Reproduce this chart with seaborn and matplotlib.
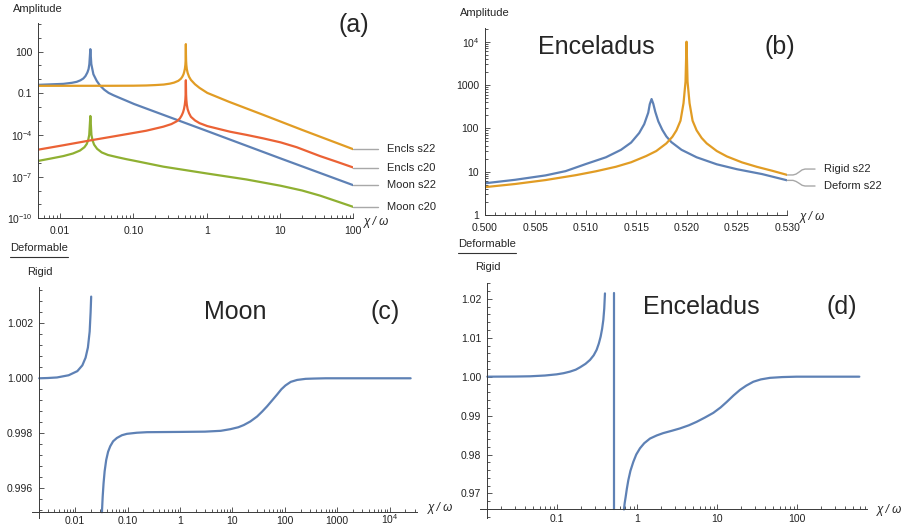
import matplotlib
matplotlib.use('Agg')
import matplotlib.pyplot as plt
import matplotlib.ticker as mticker
from matplotlib.lines import Line2D
import seaborn as sns

# ---- (a) amplitude vs chi/omega (log-log)
moon_s22_x = [0.00505, 0.0111, 0.0145, 0.0169, 0.019, 0.0208, 0.0222, 0.0236, 0.0245, 0.0251, 0.0259, 0.0267,
              0.0285, 0.0316, 0.035, 0.04, 0.046, 0.0533, 0.065, 0.08, 0.102, 0.2, 1.0, 10.0, 100.0]
moon_s22_y = [0.40, 0.47, 0.56, 0.66, 0.85, 1.15, 1.7, 3.1, 5.5, 12.3, 148, 12.3,
              2.3, 0.78, 0.36, 0.18, 0.105, 0.072, 0.046, 0.029, 0.0168, 4.5e-3, 1.95e-4, 2.1e-6, 2.4e-8]
encls_s22_x = [0.00505, 0.05, 0.1, 0.15, 0.2, 0.26, 0.316, 0.36, 0.411, 0.445, 0.466, 0.483, 0.495, 0.505, 0.512,
               0.516, 0.5185, 0.52, 0.5215, 0.524, 0.528, 0.536, 0.55, 0.575, 0.61, 0.693, 0.8, 1.02, 2.0, 5.93,
               20.0, 100.0]
encls_s22_y = [0.34, 0.342, 0.347, 0.36, 0.385, 0.42, 0.49, 0.58, 0.78, 1.1, 1.55, 2.3, 3.6, 6.0, 11,
               22, 60, 340, 60, 22, 11, 5.4, 2.9, 1.53, 0.9, 0.44, 0.24, 0.105, 0.0245, 2.75e-3,
               2.3e-4, 9.3e-6]
encls_c20_x = [0.00505, 0.0111, 0.0257, 0.05, 0.0901, 0.15, 0.256, 0.33, 0.39, 0.43, 0.456, 0.476, 0.491, 0.503,
               0.512, 0.516, 0.52, 0.524, 0.528, 0.536, 0.55, 0.575, 0.61, 0.693, 0.8, 1.02, 1.5, 2.08, 3.5,
               5.93, 10.2, 16.9, 35.1, 60.0, 100.0]
encls_c20_y = [8.7e-6, 1.8e-5, 4.0e-5, 7.3e-5, 1.25e-4, 2.0e-4, 3.9e-4, 6.0e-4, 9.5e-4, 1.5e-3, 2.5e-3, 4.2e-3,
               7.5e-3, 0.015, 0.035, 0.08, 0.86, 0.08, 0.035, 0.015, 7e-3, 3.6e-3, 2.0e-3, 1.1e-3, 7e-4,
               4.3e-4, 2.6e-4, 1.7e-4, 1.0e-4, 5.6e-5, 2.9e-5, 1.3e-5, 3.0e-6, 1.15e-6, 4.5e-7]
moon_c20_x = [0.00505, 0.0075, 0.0111, 0.015, 0.0187, 0.0215, 0.0231, 0.0242, 0.025, 0.0259, 0.0268, 0.0277,
              0.0291, 0.032, 0.037, 0.045, 0.0593, 0.08, 0.102, 0.256, 1.02, 3.5, 10.2, 20.0, 35.1, 60.0, 100.0]
moon_c20_y = [1.35e-6, 2.0e-6, 3.0e-6, 4.6e-6, 7.5e-6, 1.3e-5, 2.2e-5, 4.2e-5, 1.0e-4, 2.3e-3, 1.0e-4, 4.2e-5,
              2.0e-5, 1.0e-5, 5.5e-6, 3.6e-6, 2.55e-6, 1.8e-6, 1.4e-6, 5.2e-7, 1.66e-7, 6.2e-8, 2.2e-8, 1.0e-8,
              4.3e-9, 1.65e-9, 6.6e-10]
labels_a = ['Encls s22', 'Encls c20', 'Moon s22', 'Moon c20']
xticks_a = [0.01, 0.1, 1, 10, 100]
xticklabels_a = ['0.01', '0.10', '1', '10', '100']
yticks_a = [1e-10, 1e-7, 1e-4, 0.1, 100]
yticklabels_a = [r'$10^{-10}$', r'$10^{-7}$', r'$10^{-4}$', '0.1', '100']

# ---- (b) Enceladus near resonance
rigid_x = [0.5, 0.503, 0.506, 0.509, 0.511, 0.513, 0.5145, 0.516, 0.517, 0.518, 0.5186, 0.519, 0.5194, 0.5197,
           0.5199, 0.52, 0.5201, 0.5203, 0.5206, 0.521, 0.5215, 0.522, 0.523, 0.524, 0.5255, 0.527, 0.5285, 0.53]
rigid_y = [4.4, 5.2, 6.4, 8.3, 10.2, 13, 16.5, 23, 30, 45, 64, 90, 150, 380,
           1200, 10000, 1200, 380, 150, 90, 60, 45, 30, 22.5, 16.4, 12.9, 10.5, 8.4]
deform_x = [0.5, 0.503, 0.506, 0.508, 0.51, 0.512, 0.5135, 0.5145, 0.5153, 0.5158, 0.5162, 0.51635, 0.51653,
            0.5167, 0.5169, 0.5172, 0.5176, 0.518, 0.5185, 0.5195, 0.521, 0.523, 0.525, 0.5275, 0.53]
deform_y = [5.4, 6.5, 8.2, 10.3, 15, 21.5, 32, 47, 78, 125, 230, 360, 475,
            370, 240, 145, 92, 65, 48, 32, 21.5, 14.8, 11.4, 8.8, 6.3]
labels_b = ['Rigid s22', 'Deform s22']
xticks_b = [0.5, 0.505, 0.51, 0.515, 0.52, 0.525, 0.53]
xticklabels_b = ['0.500', '0.505', '0.510', '0.515', '0.520', '0.525', '0.530']
yticks_b = [1, 10, 100, 1000, 1e4]
yticklabels_b = ['1', '10', '100', '1000', r'$10^4$']

# ---- (c) Moon deformable / rigid
moon_left_x = [0.00206, 0.003, 0.0045, 0.0075, 0.011, 0.0137, 0.0158, 0.0175, 0.0189, 0.0197, 0.0202]
moon_left_y = [1.0, 1.00001, 1.00003, 1.00011, 1.00026, 1.00047, 1.00075, 1.00112, 1.0017, 1.0024, 1.00297]
moon_right_x = [0.0324, 0.0335, 0.0348, 0.0365, 0.0391, 0.0425, 0.0467, 0.053, 0.0625, 0.078, 0.0971, 0.15, 0.234,
                1.0, 3.0, 6.0, 9.16, 13.0, 16.5, 22.0, 29.6, 37.0, 45.9, 57.0, 71.4, 86.0, 103, 130, 172, 250,
                358, 600, 25200]
moon_right_y = [0.99513, 0.99570, 0.99618, 0.99662, 0.99703, 0.99733, 0.99753, 0.99771, 0.99783, 0.99793, 0.99798,
                0.99802, 0.99804, 0.99805, 0.99806, 0.99809, 0.99815, 0.99822, 0.99830, 0.99843, 0.99861, 0.99879,
                0.99898, 0.99919, 0.99941, 0.99960, 0.99974, 0.99987, 0.99994, 0.99998, 0.99999, 1.0, 1.0]
xticks_c = [0.01, 0.1, 1, 10, 100, 1000, 1e4]
xticklabels_c = ['0.01', '0.10', '1', '10', '100', '1000', r'$10^4$']
yticks_c = [0.996, 0.998, 1.000, 1.002]
yticklabels_c = ['0.996', '0.998', '1.000', '1.002']

# ---- (d) Enceladus deformable / rigid
enc_left_x = [0.01334, 0.03, 0.0455, 0.07, 0.0981, 0.12, 0.144, 0.17, 0.192, 0.225, 0.256, 0.285, 0.31, 0.33,
              0.348, 0.363, 0.376, 0.386, 0.394]
enc_left_y = [1.0, 1.00004, 1.0001, 1.0003, 1.0006, 1.0009, 1.0013, 1.0018, 1.0024, 1.0033, 1.0043, 1.0055, 1.0069,
              1.0085, 1.0103, 1.0123, 1.0146, 1.0175, 1.0214]
enc_pole_x = [0.516, 0.516]
enc_pole_y = [1.0214, 0.96588]
enc_right_x = [0.681, 0.695, 0.715, 0.74, 0.772, 0.82, 0.891, 0.97, 1.08, 1.22, 1.44, 1.75, 2.11, 2.7, 3.41, 4.4,
               5.52, 7.0, 8.91, 11.0, 13.1, 16.0, 19.2, 23.0, 28.2, 35.0, 45.5, 65.0, 97.7, 596]
enc_right_y = [0.96587, 0.9675, 0.9691, 0.9712, 0.9734, 0.9758, 0.9781, 0.9800, 0.9816, 0.9829, 0.9841, 0.9849,
               0.9855, 0.9861, 0.9867, 0.9875, 0.9884, 0.9895, 0.9907, 0.9921, 0.9935, 0.9952, 0.9966, 0.9977,
               0.9987, 0.9993, 0.9997, 0.9999, 1.0, 1.0]
xticks_d = [0.1, 1, 10, 100]
xticklabels_d = ['0.1', '1', '10', '100']
yticks_d = [0.97, 0.98, 0.99, 1.00, 1.01, 1.02]
yticklabels_d = ['0.97', '0.98', '0.99', '1.00', '1.01', '1.02']

BLUE, ORANGE, GREEN, RED = '#5E81B5', '#E19C24', '#8FB032', '#EB6235'
GRAY = '#a8a8a8'
AXC = '#3a3a3a'
LW = 1.6

sns.set_style('ticks')
plt.rcParams['font.family'] = ['Liberation Sans', 'DejaVu Sans']
plt.rcParams['mathtext.fontset'] = 'custom'
plt.rcParams['mathtext.rm'] = 'Liberation Sans'
plt.rcParams['mathtext.it'] = 'Liberation Sans:italic'

W, H = 904, 530
fig = plt.figure(figsize=(W / 100, H / 100), dpi=100)


def box(l, t, r, b):
    return [l / W, 1 - b / H, (r - l) / W, (b - t) / H]


def ftext(px, py, s, **kw):
    fig.text(px / W, 1 - py / H, s, va='center', ha='left', **kw)


def style(ax, xpad=11.5):
    # call after spine positions are set (set_position resets the ticks)
    for s in ['top', 'right']:
        ax.spines[s].set_visible(False)
    for s in ['left', 'bottom']:
        ax.spines[s].set_color(AXC)
        ax.spines[s].set_linewidth(0.7)
    ax.tick_params(which='both', direction='in', color=AXC, width=0.6, labelsize=7.5, labelcolor='#222222')
    ax.tick_params(which='major', length=3.6)
    ax.tick_params(which='minor', length=2.0)
    ax.tick_params(axis='y', pad=4.3)
    ax.tick_params(axis='x', pad=xpad)
    for t in ax.xaxis.get_major_ticks():
        t.label1.set_verticalalignment('baseline')
    for t in ax.yaxis.get_major_ticks():
        t.label1.set_verticalalignment('center_baseline')
    ax.set_xlabel('')
    ax.set_ylabel('')
    ax.patch.set_alpha(0)


def fixed_ticks(axis, ticks, labels):
    axis.set_major_locator(mticker.FixedLocator(ticks))
    axis.set_major_formatter(mticker.FixedFormatter(labels))


def log_minor(axis):
    axis.set_minor_locator(mticker.LogLocator(base=10, subs=range(2, 10), numticks=50))
    axis.set_minor_formatter(mticker.NullFormatter())


def line(ax, xs, ys, color):
    sns.lineplot(x=xs, y=ys, ax=ax, color=color, lw=LW, sort=False, estimator=None)


# ---------------- (a)
ax_a = fig.add_axes(box(38.3, 23.3, 353.3, 218.3))
series_a = [(moon_s22_x, moon_s22_y, BLUE), (encls_s22_x, encls_s22_y, ORANGE),
            (moon_c20_x, moon_c20_y, GREEN), (encls_c20_x, encls_c20_y, RED)]
for xs, ys, c in series_a:
    line(ax_a, xs, ys, c)
ends_a = [encls_s22_y[-1], encls_c20_y[-1], moon_s22_y[-1], moon_c20_y[-1]]
for yend, lab in zip(ends_a, labels_a):
    ax_a.plot([100, 217], [yend, yend], color=GRAY, lw=1, clip_on=False)
    ax_a.text(286, yend, lab, va='center', ha='left', fontsize=8)
ax_a.set_xscale('log')
ax_a.set_yscale('log')
ax_a.set_xlim(0.00505, 100)
ax_a.set_ylim(1e-10, 1.07e4)
fixed_ticks(ax_a.xaxis, xticks_a, xticklabels_a)
fixed_ticks(ax_a.yaxis, yticks_a, yticklabels_a)
log_minor(ax_a.xaxis)
ax_a.yaxis.set_minor_locator(mticker.FixedLocator([10.0 ** k for k in range(-10, 5)]))
ax_a.yaxis.set_minor_formatter(mticker.NullFormatter())
style(ax_a)

# ---------------- (b)
ax_b = fig.add_axes(box(485, 28.3, 787.3, 215))
line(ax_b, deform_x, deform_y, BLUE)
line(ax_b, rigid_x, rigid_y, ORANGE)
ax_b.set_yscale('log')
ax_b.set_xlim(0.5, 0.53)
ax_b.set_ylim(1, 2.04e4)
conn_x = [0.53, 0.53057, 0.53087, 0.53117, 0.53147, 0.53176, 0.53275]
r_end, d_end = rigid_y[-1], deform_y[-1]
ax_b.plot(conn_x, [r_end, r_end, 8.8, 9.8, 11.0, 11.5, 11.5], color=GRAY, lw=1, clip_on=False)
ax_b.plot(conn_x, [d_end, d_end, 5.95, 5.4, 4.85, 4.67, 4.67], color=GRAY, lw=1, clip_on=False)
ax_b.text(0.53364, 11.5, labels_b[0], va='center', ha='left', fontsize=8)
ax_b.text(0.53364, 4.67, labels_b[1], va='center', ha='left', fontsize=8)
fixed_ticks(ax_b.xaxis, xticks_b, xticklabels_b)
fixed_ticks(ax_b.yaxis, yticks_b, yticklabels_b)
ax_b.xaxis.set_minor_locator(mticker.MultipleLocator(0.001))
log_minor(ax_b.yaxis)
style(ax_b)

# ---------------- (c)
ax_c = fig.add_axes(box(32, 286.7, 416.7, 518))
line(ax_c, moon_left_x, moon_left_y, BLUE)
line(ax_c, moon_right_x, moon_right_y, BLUE)
ax_c.set_xscale('log')
ax_c.set_xlim(0.0015, 3.29e4)
ax_c.set_ylim(0.99492, 1.00333)
ax_c.spines['left'].set_position(('data', 0.00206))
ax_c.spines['bottom'].set_position(('data', 0.99514))
fixed_ticks(ax_c.xaxis, xticks_c, xticklabels_c)
fixed_ticks(ax_c.yaxis, yticks_c, yticklabels_c)
log_minor(ax_c.xaxis)
ax_c.yaxis.set_minor_locator(mticker.MultipleLocator(0.0004))
style(ax_c, xpad=9.0)

# ---------------- (d)
ax_d = fig.add_axes(box(480, 283.3, 866.7, 518))
line(ax_d, enc_left_x, enc_left_y, BLUE)
line(ax_d, enc_pole_x, enc_pole_y, BLUE)
line(ax_d, enc_right_x, enc_right_y, BLUE)
ax_d.set_xscale('log')
ax_d.set_xlim(0.0108, 737)
ax_d.set_ylim(0.96368, 1.0240)
ax_d.spines['left'].set_position(('data', 0.01334))
ax_d.spines['bottom'].set_position(('data', 0.96588))
fixed_ticks(ax_d.xaxis, xticks_d, xticklabels_d)
fixed_ticks(ax_d.yaxis, yticks_d, yticklabels_d)
log_minor(ax_d.xaxis)
ax_d.yaxis.set_minor_locator(mticker.MultipleLocator(0.002))
style(ax_d, xpad=9.0)

# ---------------- texts
ftext(13, 9.5, 'Amplitude', fontsize=8)
ftext(460, 13.5, 'Amplitude', fontsize=8)
ftext(338, 25, '(a)', fontsize=18)
ftext(538, 47, 'Enceladus', fontsize=18)
ftext(765, 47, '(b)', fontsize=18)
ftext(204, 312, 'Moon', fontsize=18)
ftext(370, 312, '(c)', fontsize=18)
ftext(643, 307, 'Enceladus', fontsize=18)
ftext(827, 307, '(d)', fontsize=18)

xlab = 'χ / ω'
ftext(364, 222, xlab, fontsize=8.5, fontstyle='italic')
ftext(800, 217, xlab, fontsize=8.5, fontstyle='italic')
ftext(428, 508, xlab, fontsize=8.5, fontstyle='italic')
ftext(877, 510, xlab, fontsize=8.5, fontstyle='italic')

# Deformable / Rigid fraction labels
for (lx, ty, ly, ry) in [(10, 248.3, 257.3, 271.7), (458, 244.3, 253.3, 266.7)]:
    ftext(lx, ty, 'Deformable', fontsize=8)
    ftext(lx + 17, ry, 'Rigid', fontsize=8)
    fig.add_artist(Line2D([lx / W, (lx + 58) / W], [1 - ly / H, 1 - ly / H],
                          transform=fig.transFigure, color='#333333', lw=0.8))

fig.savefig('out.png', dpi=100)
